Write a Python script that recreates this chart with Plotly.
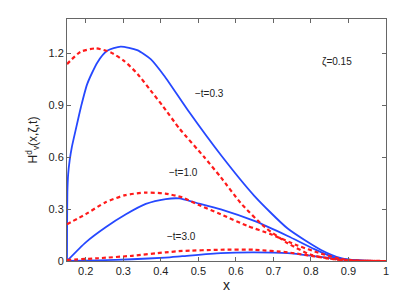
import plotly.graph_objects as go

# -t = 0.3
x_b03 = [0.15, 0.1502, 0.151, 0.153, 0.157, 0.163, 0.173, 0.187, 0.204, 0.231, 0.257, 0.293, 0.337, 0.373, 0.409, 0.476, 0.561, 0.649, 0.738, 0.827, 0.88, 0.93, 1.0]
y_b03 = [0.0, 0.2, 0.4, 0.5, 0.58, 0.66, 0.757, 0.89, 1.025, 1.149, 1.216, 1.24, 1.22, 1.168, 1.072, 0.86, 0.61, 0.377, 0.188, 0.064, 0.017, 0.003, 0.0]
x_r03 = [0.15, 0.186, 0.227, 0.267, 0.302, 0.338, 0.373, 0.404, 0.45, 0.516, 0.56, 0.613, 0.676, 0.738, 0.8, 0.853, 0.9, 1.0]
y_r03 = [1.139, 1.21, 1.23, 1.206, 1.158, 1.082, 0.986, 0.9, 0.765, 0.6, 0.484, 0.335, 0.198, 0.103, 0.036, 0.013, 0.002, 0.0]

# -t = 1.0
x_b10 = [0.15, 0.2, 0.253, 0.307, 0.36, 0.413, 0.449, 0.494, 0.56, 0.649, 0.738, 0.809, 0.862, 0.92, 1.0]
y_b10 = [0.0, 0.108, 0.195, 0.27, 0.33, 0.358, 0.362, 0.337, 0.299, 0.232, 0.145, 0.069, 0.021, 0.003, 0.0]
x_r10 = [0.15, 0.2, 0.252, 0.305, 0.359, 0.412, 0.457, 0.5, 0.56, 0.631, 0.693, 0.764, 0.827, 0.88, 0.93, 1.0]
y_r10 = [0.213, 0.271, 0.339, 0.381, 0.396, 0.39, 0.368, 0.325, 0.27, 0.203, 0.155, 0.09, 0.043, 0.012, 0.002, 0.0]

# -t = 3.0
x_b30 = [0.15, 0.233, 0.323, 0.412, 0.457, 0.56, 0.649, 0.738, 0.809, 0.862, 0.93, 1.0]
y_b30 = [0.0, 0.004, 0.01, 0.02, 0.028, 0.046, 0.05, 0.045, 0.028, 0.013, 0.002, 0.0]
x_r30 = [0.15, 0.233, 0.323, 0.412, 0.457, 0.56, 0.649, 0.738, 0.809, 0.87, 0.93, 1.0]
y_r30 = [0.006, 0.016, 0.03, 0.05, 0.058, 0.065, 0.065, 0.05, 0.027, 0.008, 0.001, 0.0]

x_ticks = [0.2, 0.3, 0.4, 0.5, 0.6, 0.7, 0.8, 0.9, 1.0]
x_ticklabels = ["0.2", "0.3", "0.4", "0.5", "0.6", "0.7", "0.8", "0.9", "1"]
y_ticks = [0, 0.3, 0.6, 0.9, 1.2]
y_ticklabels = ["0", "0.3", "0.6", "0.9", "1.2"]

labels = ["\u2212t=0.3", "\u2212t=1.0", "\u2212t=3.0", "\u03b6=0.15"]
label_x = [0.53, 0.46, 0.455, 0.87]
label_y = [0.97, 0.51, 0.14, 1.15]

BLUE = "#2648ff"
RED = "#ff1a1a"
FONT = "Liberation Sans, Arial, sans-serif"

fig = go.Figure()
for xs, ys in [(x_b03, y_b03), (x_b10, y_b10), (x_b30, y_b30)]:
    fig.add_trace(go.Scatter(x=xs, y=ys, mode="lines",
                             line=dict(color=BLUE, width=1.8, shape="spline", smoothing=0.6)))
for xs, ys in [(x_r03, y_r03), (x_r10, y_r10), (x_r30, y_r30)]:
    fig.add_trace(go.Scatter(x=xs, y=ys, mode="lines",
                             line=dict(color=RED, width=2.2, dash="4px,3px", shape="spline", smoothing=0.6)))

for t, lx, ly in zip(labels, label_x, label_y):
    fig.add_annotation(x=lx, y=ly, text=t, showarrow=False,
                       font=dict(size=10, color="#222", family=FONT))

axis_common = dict(showline=True, linecolor="#666", linewidth=1, mirror="ticks",
                   ticks="inside", ticklen=4, tickcolor="#666", showgrid=False, zeroline=False,
                   tickfont=dict(size=11, color="#222", family=FONT))

# the page body adds an 8px offset, so the figure is sized/margined to compensate
fig.update_layout(
    width=401, height=292,
    margin=dict(l=59, r=23, t=10, b=33),
    plot_bgcolor="white", paper_bgcolor="white",
    showlegend=False,
    xaxis=dict(range=[0.15, 1.0], tickvals=x_ticks, ticktext=x_ticklabels,
               title=dict(text="x", font=dict(size=14, color="#222", family=FONT), standoff=3),
               **axis_common),
    yaxis=dict(range=[0, 1.4], tickvals=y_ticks, ticktext=y_ticklabels,
               title=dict(text="H<sup>d</sup><sub>v</sub>(x,\u03b6,t)", font=dict(size=12, color="#222", family=FONT), standoff=8),
               **axis_common),
)

fig.write_html("out.html")
